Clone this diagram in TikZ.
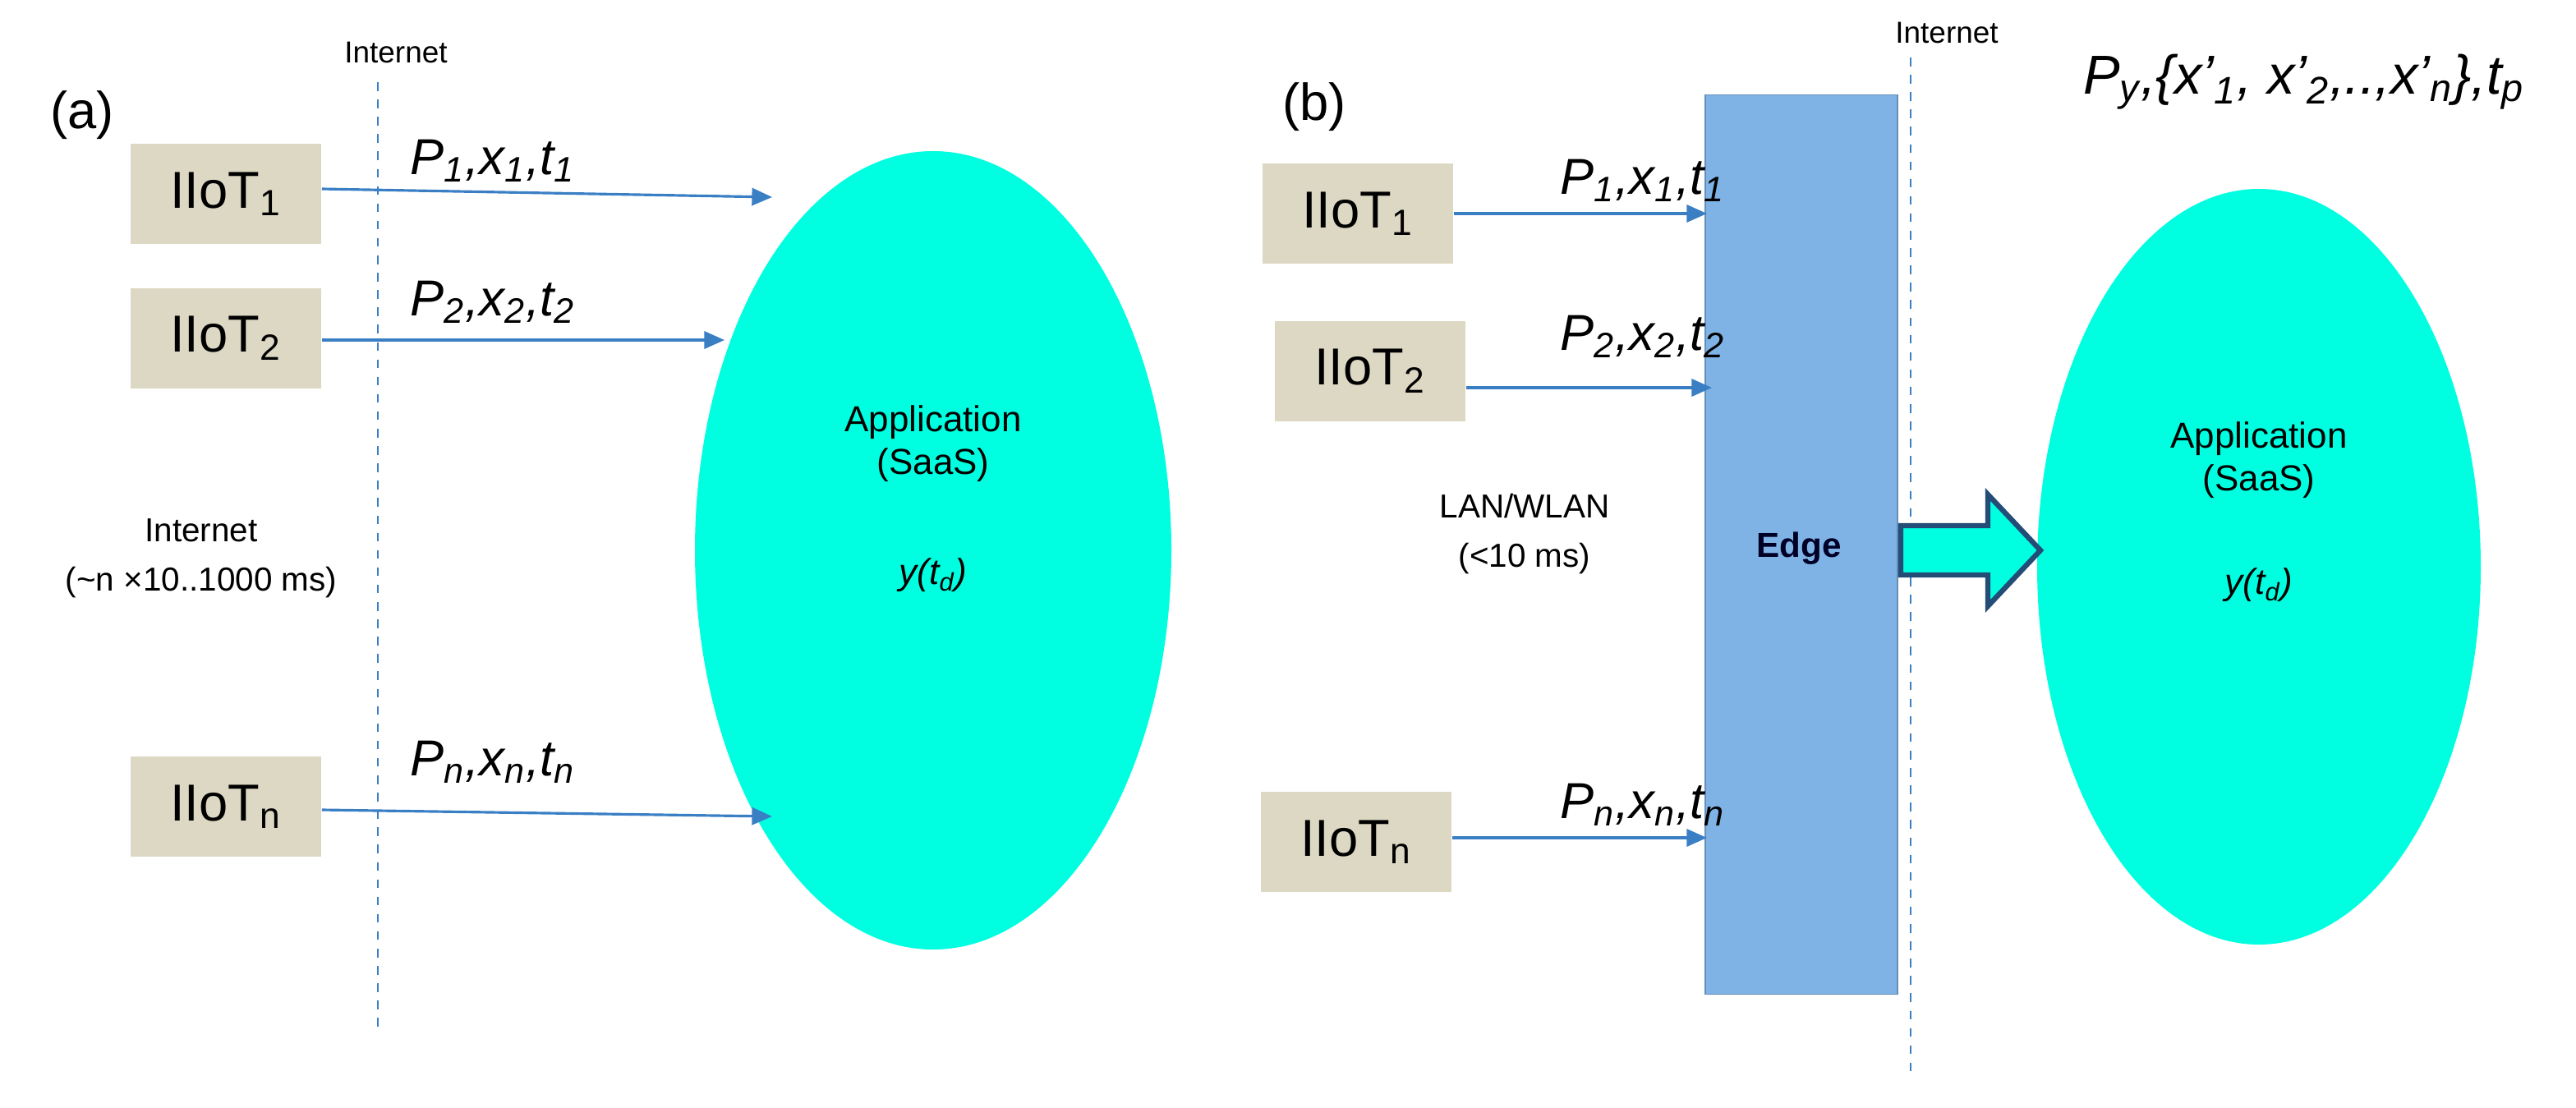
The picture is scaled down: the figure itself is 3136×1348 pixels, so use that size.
\documentclass[tikz,border=0pt]{standalone}
\usepackage{fontspec}
\setmainfont{Liberation Sans}
\usetikzlibrary{arrows.meta}
\definecolor{boxc}{HTML}{DDD8C3}
\definecolor{cyanc}{HTML}{00FFE0}
\definecolor{arr}{HTML}{3A7FC4}
\definecolor{edgec}{HTML}{7FB3E6}
\newcommand{\sbs}[1]{\textsubscript{#1}}
\begin{document}
\begin{tikzpicture}[x=0.01cm,y=-0.01cm,
  dev/.style={fill=boxc,draw=none,minimum width=2.32cm,minimum height=1.22cm,inner sep=0,font=\fontsize{18}{20}\selectfont},
  conn/.style={draw=arr,line width=0.9pt,-{Triangle[length=7pt,width=6pt]}},
  lab/.style={font=\fontsize{17.5}{20}\selectfont\itshape},
  txt/.style={font=\fontsize{12.5}{15}\selectfont,align=center},
  small/.style={font=\fontsize{10.5}{13}\selectfont,align=center},
  dsh/.style={draw=arr,dashed,line width=0.8pt}]
\useasboundingbox (0,0) rectangle (3136,1348);
% (a)
\node[font=\fontsize{18}{20}\selectfont] (la) at (100,140) {(a)};
\node[small] (ia) at (482,64) {Internet};
\coordinate (da1) at (460,100); \coordinate (da2) at (460,1250);
\draw[dsh] (da1) -- (da2);
\node[dev] (a1) at (275,236) {IIoT\sbs{1}};
\node[dev] (a2) at (275,412) {IIoT\sbs{2}};
\node[dev] (an) at (275,982) {IIoT\sbs{n}};
\fill[cyanc] (1136,670) ellipse [x radius=290, y radius=486];
\coordinate (ta1) at (940,240); \coordinate (ta2) at (882,414); \coordinate (tan) at (940,994);
\draw[conn] (a1.east|-ta1) ++(0,-10) -- (ta1);
\draw[conn] (a2.east|-ta2) -- (ta2);
\draw[conn] (an.east|-tan) ++(0,-8) -- (tan);
\node[lab] at (600,196) {P\sbs{1},x\sbs{1},t\sbs{1}};
\node[lab] at (600,368) {P\sbs{2},x\sbs{2},t\sbs{2}};
\node[lab] at (600,928) {P\sbs{n},x\sbs{n},t\sbs{n}};
\node[txt] at (1136,540) {Application\\(SaaS)};
\node[txt] at (1136,700) {\itshape y(t\sbs{d})};
\node[small,font=\fontsize{11.5}{17}\selectfont] at (245,680) {Internet\\(\textasciitilde n ×10..1000 ms)};
% (b)
\node[font=\fontsize{18}{20}\selectfont] (lb) at (1600,130) {(b)};
\node[small] (ib) at (2370,40) {Internet};
\coordinate (db1) at (2326,70); \coordinate (db2) at (2326,1310);
\draw[dsh] (db1) -- (db2);
\node[dev] (b1) at (1653,260) {IIoT\sbs{1}};
\node[dev] (b2) at (1668,452) {IIoT\sbs{2}};
\node[dev] (bn) at (1651,1025) {IIoT\sbs{n}};
\node[fill=edgec,draw=edgec!80!black,line width=0.4pt,minimum width=2.34cm,minimum height=10.94cm,inner sep=0] (edge) at (2193,663) {};
\node[font=\fontsize{12}{14}\selectfont\bfseries,text=black!85!blue] at (2190,668) {Edge};
\coordinate (eb1) at (2078,260); \coordinate (eb2) at (2084,472); \coordinate (ebn) at (2078,1020);
\draw[conn] (b1.east|-eb1) -- (eb1);
\draw[conn] (b2.east|-eb2) -- (eb2);
\draw[conn] (bn.east|-ebn) -- (ebn);
\node[lab] at (2000,220) {P\sbs{1},x\sbs{1},t\sbs{1}};
\node[lab] at (2000,410) {P\sbs{2},x\sbs{2},t\sbs{2}};
\node[lab] at (2000,980) {P\sbs{n},x\sbs{n},t\sbs{n}};
\node[small,font=\fontsize{11.5}{17}\selectfont] at (1856,650) {LAN/WLAN\\(<10 ms)};
\fill[cyanc] (2750,690) ellipse [x radius=270, y radius=460];
\filldraw[fill=cyanc,draw=arr!60!black,line width=1.8pt,line join=miter]
  (2314,640) -- (2420,640) -- (2420,602) -- (2484,670) -- (2420,738) -- (2420,700) -- (2314,700) -- cycle;
\node[txt] at (2750,560) {Application\\(SaaS)};
\node[txt] at (2750,712) {\itshape y(t\sbs{d})};
\node[font=\fontsize{19}{22}\selectfont\itshape] at (2805,100) {P\sbs{y},\{x’\sbs{1}, x’\sbs{2},..,x’\sbs{n}\},t\sbs{p}};
\end{tikzpicture}
\end{document}
